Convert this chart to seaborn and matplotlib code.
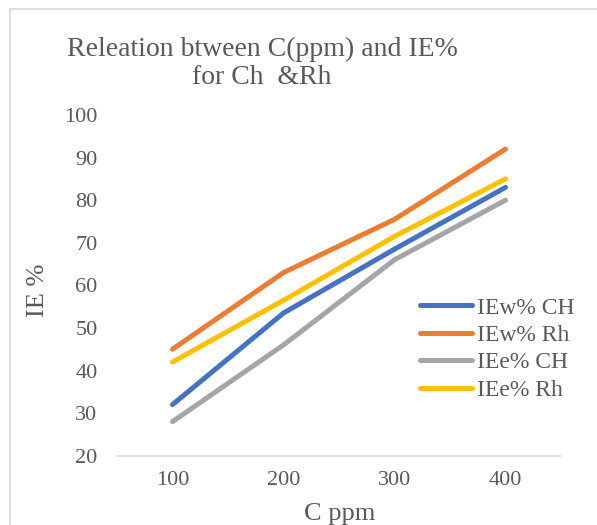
import pandas as pd
import matplotlib.pyplot as plt
import seaborn as sns
from matplotlib.lines import Line2D

# Data
conc = ['100', '200', '300', '400']
iew_ch = [32, 53.5, 68.5, 83]
iew_rh = [45, 63, 75.5, 92]
iee_ch = [28, 46, 66, 80]
iee_rh = [42, 56.5, 71.5, 85]
series_names = ['IEw% CH', 'IEw% Rh', 'IEe% CH', 'IEe% Rh']
colors = ['#4472C4', '#ED7D31', '#A5A5A5', '#FFC000']

# long form table for seaborn
rows = []
for name, vals in zip(series_names, [iew_ch, iew_rh, iee_ch, iee_rh]):
    for c, v in zip(conc, vals):
        rows.append({'C ppm': c, 'IE %': v, 'series': name})
df = pd.DataFrame(rows)

sns.set_style('white')
plt.rcParams['font.family'] = ['Liberation Serif', 'DejaVu Serif']
text_color = '#595959'

fig = plt.figure(figsize=(5.97, 5.25), dpi=100)
ax = fig.add_axes([117 / 597, 1 - 455.7 / 525, 444 / 597, 340.7 / 525])

sns.lineplot(data=df, x='C ppm', y='IE %', hue='series', hue_order=series_names,
             palette=colors, linewidth=3.6, sort=False, ax=ax)
for line in ax.lines:
    line.set_solid_capstyle('round')
    line.set_solid_joinstyle('round')

ax.set_xlim(-0.5, 3.5)
ax.set_ylim(20, 100)
ax.set_yticks(range(20, 101, 10))
ax.set_xlabel('')
ax.set_ylabel('')
ax.tick_params(axis='both', length=0, labelsize=16, colors=text_color)
ax.tick_params(axis='y', pad=14)
ax.tick_params(axis='x', pad=11)
for side in ['top', 'right', 'left']:
    ax.spines[side].set_visible(False)
ax.spines['bottom'].set_color('#D9D9D9')
ax.spines['bottom'].set_linewidth(1.2)

handles, labels = ax.get_legend_handles_labels()
leg = ax.legend(handles, labels, loc='upper left', bbox_to_anchor=(420 / 597, 1 - 297 / 525),
                bbox_transform=fig.transFigure, frameon=False, fontsize=17,
                handlelength=2.2, handletextpad=0.2, labelspacing=0.25,
                borderpad=0, borderaxespad=0)
for t in leg.get_texts():
    t.set_color(text_color)
for h in leg.get_lines():
    h.set_linewidth(3.6)
    h.set_solid_capstyle('round')

fig.text(262 / 597, 1 - 63 / 525, 'Releation btween C(ppm) and IE%\nfor Ch  &Rh',
         ha='center', va='center', fontsize=20, color=text_color, linespacing=1.15)
fig.text(38 / 597, 1 - 290 / 525, 'IE %', rotation=90, ha='center', va='center',
         fontsize=19, color=text_color)
fig.text(339.5 / 597, 1 - 514 / 525, 'C ppm', ha='center', va='center',
         fontsize=19, color=text_color)

# chart area border (only top and left are visible in the picture)
fig.add_artist(Line2D([10 / 597, 10 / 597], [0, 1 - 9 / 525], color='#D9D9D9', lw=1.2))
fig.add_artist(Line2D([10 / 597, 1], [1 - 9 / 525, 1 - 9 / 525], color='#D9D9D9', lw=1.2))

fig.savefig('out.png', dpi=100)
